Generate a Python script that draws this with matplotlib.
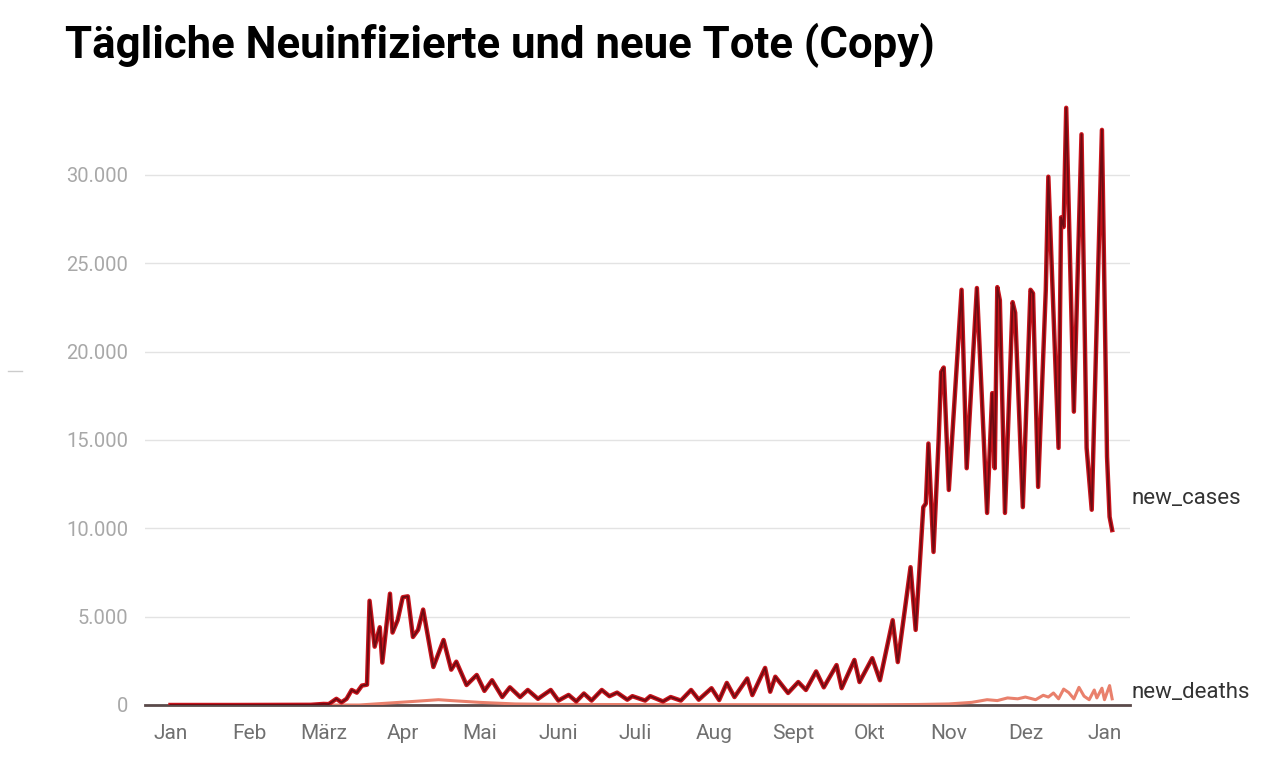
import matplotlib
matplotlib.use("Agg")
import matplotlib.pyplot as plt
import matplotlib.ticker as mticker
from matplotlib.lines import Line2D
import pandas as pd

# Daten
case_dates = [
    "2020-01-01", "2020-01-27", "2020-02-25", "2020-03-01", "2020-03-03", "2020-03-06",
    "2020-03-08", "2020-03-10", "2020-03-12", "2020-03-14", "2020-03-16", "2020-03-18",
    "2020-03-19", "2020-03-21", "2020-03-23", "2020-03-24", "2020-03-27", "2020-03-28",
    "2020-03-30", "2020-04-01", "2020-04-03", "2020-04-05", "2020-04-07", "2020-04-09",
    "2020-04-13", "2020-04-17", "2020-04-20", "2020-04-22", "2020-04-26", "2020-04-30",
    "2020-05-03", "2020-05-06", "2020-05-10", "2020-05-13", "2020-05-17", "2020-05-20",
    "2020-05-24", "2020-05-29", "2020-06-01", "2020-06-05", "2020-06-08", "2020-06-11",
    "2020-06-14", "2020-06-18", "2020-06-21", "2020-06-24", "2020-06-28", "2020-06-30",
    "2020-07-05", "2020-07-07", "2020-07-12", "2020-07-15", "2020-07-19", "2020-07-23",
    "2020-07-26", "2020-07-31", "2020-08-03", "2020-08-06", "2020-08-09", "2020-08-14",
    "2020-08-16", "2020-08-21", "2020-08-23", "2020-08-25", "2020-08-30", "2020-09-03",
    "2020-09-06", "2020-09-10", "2020-09-13", "2020-09-18", "2020-09-20", "2020-09-25",
    "2020-09-27", "2020-10-02", "2020-10-05", "2020-10-10", "2020-10-12", "2020-10-17",
    "2020-10-19", "2020-10-22", "2020-10-23", "2020-10-24", "2020-10-26", "2020-10-28",
    "2020-10-29", "2020-10-30", "2020-11-01", "2020-11-06", "2020-11-08", "2020-11-12",
    "2020-11-16", "2020-11-18", "2020-11-19", "2020-11-20", "2020-11-21", "2020-11-23",
    "2020-11-26", "2020-11-27", "2020-11-30", "2020-12-03", "2020-12-04", "2020-12-06",
    "2020-12-09", "2020-12-10", "2020-12-14", "2020-12-15", "2020-12-16", "2020-12-17",
    "2020-12-20", "2020-12-23", "2020-12-25", "2020-12-27", "2020-12-31", "2021-01-02",
    "2021-01-03", "2021-01-04",
]
new_cases = [
    0, 0, 10, 60, 50, 350,
    150, 350, 850, 700, 1100, 1150,
    5900, 3300, 4400, 2400, 6300, 4100,
    4800, 6100, 6150, 3850, 4250, 5400,
    2150, 3680, 2000, 2450, 1130, 1700,
    800, 1400, 450, 1000, 450, 850,
    350, 850, 250, 570, 200, 650,
    250, 850, 500, 700, 300, 500,
    250, 500, 200, 450, 250, 850,
    300, 950, 280, 1250, 450, 1500,
    560, 2100, 750, 1600, 680, 1300,
    850, 1900, 1000, 2260, 950, 2550,
    1300, 2650, 1400, 4800, 2430, 7800,
    4250, 11200, 11400, 14800, 8660, 15000,
    18850, 19100, 12170, 23500, 13400, 23600,
    10870, 17650, 13400, 23650, 22900, 10870,
    22800, 22200, 11200, 23500, 23300, 12340,
    23500, 29900, 14550, 27600, 27050, 33800,
    16600, 32300, 14550, 11050, 32550, 14050,
    10650, 9900,
]

death_dates = [
    "2020-01-01", "2020-03-15", "2020-04-05", "2020-04-10", "2020-04-15", "2020-04-20",
    "2020-05-01", "2020-05-15", "2020-06-01", "2020-10-01", "2020-10-20", "2020-11-01",
    "2020-11-10", "2020-11-16", "2020-11-20", "2020-11-24", "2020-11-28", "2020-12-01",
    "2020-12-05", "2020-12-08", "2020-12-10", "2020-12-12", "2020-12-14", "2020-12-16",
    "2020-12-18", "2020-12-20", "2020-12-22", "2020-12-24", "2020-12-26", "2020-12-28",
    "2020-12-29", "2020-12-31", "2021-01-01", "2021-01-03", "2021-01-04",
]
new_deaths = [
    0, 0, 200, 250, 300, 250,
    150, 60, 30, 10, 30, 60,
    150, 300, 250, 400, 350, 450,
    300, 550, 450, 680, 350, 900,
    700, 350, 1000, 500, 300, 850,
    400, 950, 300, 1100, 350,
]

month_labels = ["Jan", "Feb", "März", "Apr", "Mai", "Juni", "Juli",
                "Aug", "Sept", "Okt", "Nov", "Dez", "Jan"]
y_ticks = [0, 5000, 10000, 15000, 20000, 25000, 30000]

plt.rcParams['font.family'] = ['Roboto', 'DejaVu Sans']

fig = plt.figure(figsize=(12.74, 7.78), dpi=100)
ax = fig.add_axes([145 / 1274, 1 - 705 / 778, (1130 - 145) / 1274, 605 / 778])

cd = pd.to_datetime(case_dates)
dd = pd.to_datetime(death_dates)

# Linien
ax.plot(dd, new_deaths, color="#e9806c", lw=2.2, solid_joinstyle="round", zorder=3)
ax.plot(cd, new_cases, color="#c8141c", lw=3.2, solid_joinstyle="round", zorder=4)
ax.plot(cd, new_cases, color="#6e0b12", lw=1.3, solid_joinstyle="round", zorder=5)

# Achsen
ax.set_ylim(0, 34240)
ax.set_xlim(pd.Timestamp("2019-12-22"), pd.Timestamp("2021-01-11"))
ax.set_yticks(y_ticks)
ax.yaxis.set_major_formatter(mticker.FuncFormatter(lambda v, p: f"{int(v):,}".replace(",", ".")))
ticks = pd.date_range("2020-01-01", "2021-01-01", freq="MS")
ax.set_xticks(ticks)
ax.set_xticklabels(month_labels)

ax.grid(axis="y", color="#e3e3e3", lw=1)
ax.axhline(0, color="#5a4a4a", lw=2, zorder=2, clip_on=False)
for s in ax.spines.values():
    s.set_visible(False)
ax.tick_params(axis="y", length=0, pad=12, labelsize=14.5, labelcolor="#a8a8a8")
ax.tick_params(axis="x", length=0, pad=14, labelsize=15, labelcolor="#707070")

# Beschriftungen rechts
ax.text(1.002, (705 - 498) / 605, "new_cases", transform=ax.transAxes,
        fontsize=16, color="#333333", va="center", ha="left")
ax.text(1.002, (705 - 692) / 605, "new_deaths", transform=ax.transAxes,
        fontsize=16, color="#333333", va="center", ha="left")

fig.text(65 / 1274, 1 - 45 / 778, "Tägliche Neuinfizierte und neue Tote (Copy)",
         fontsize=31.5, fontweight="bold", color="#000000", va="center", ha="left")

fig.add_artist(Line2D([8 / 1274, 22 / 1274], [1 - 371 / 778, 1 - 371 / 778],
                      color="#cccccc", lw=1))

fig.savefig("out.png", dpi=100)
